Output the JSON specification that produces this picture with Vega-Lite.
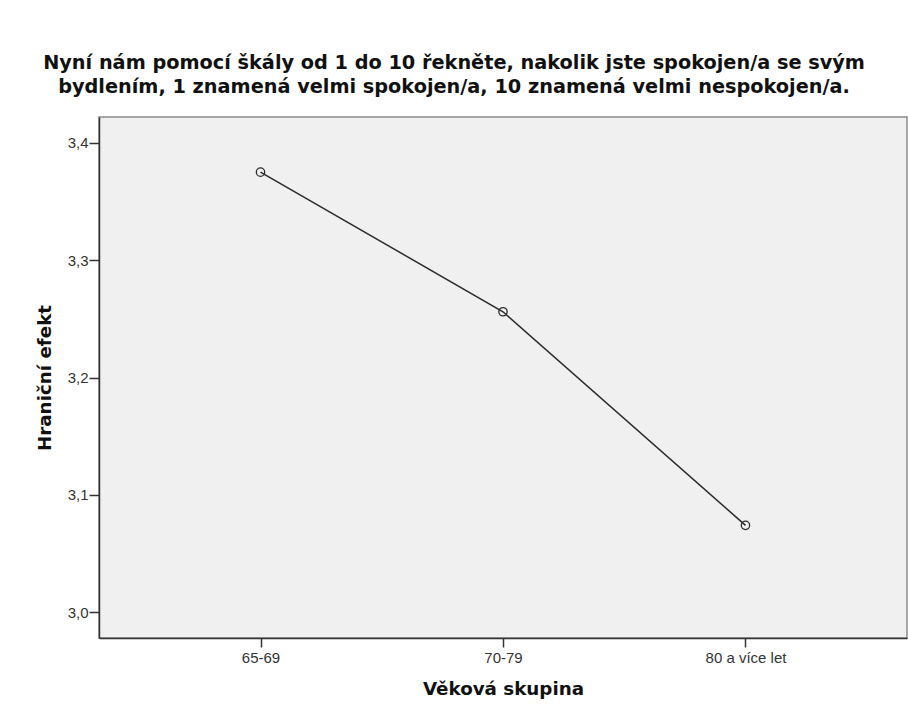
{
  "$schema": "https://vega.github.io/schema/vega-lite/v6.json",
  "width": 808,
  "height": 521,
  "autosize": {"type": "none"},
  "padding": {"left": 99, "top": 117, "right": 1, "bottom": 78},
  "background": "white",
  "title": {
    "text": [
      "Nyní nám pomocí škály od 1 do 10 řekněte, nakolik jste spokojen/a se svým",
      "bydlením, 1 znamená velmi spokojen/a, 10 znamená velmi nespokojen/a."
    ],
    "font": "DejaVu Sans",
    "fontSize": 19.3,
    "fontWeight": "bold",
    "color": "#111",
    "lineHeight": 24,
    "anchor": "middle",
    "dx": -49,
    "offset": 20
  },
  "config": {
    "view": {"fill": "#f0f0f0", "stroke": "#8a8a8a", "strokeWidth": 1.5},
    "axis": {
      "labelFont": "Liberation Sans",
      "titleFont": "DejaVu Sans",
      "labelFontSize": 15,
      "labelColor": "#333",
      "titleFontSize": 18.3,
      "titleFontWeight": "bold",
      "titleColor": "#111",
      "domainColor": "#333",
      "domainWidth": 1.5,
      "tickColor": "#333",
      "tickWidth": 1.5,
      "grid": false
    }
  },
  "data": {
    "values": [
      {"skupina": "65-69", "efekt": 3.375},
      {"skupina": "70-79", "efekt": 3.256},
      {"skupina": "80 a více let", "efekt": 3.074}
    ]
  },
  "encoding": {
    "x": {
      "field": "skupina",
      "type": "ordinal",
      "sort": null,
      "scale": {"type": "point", "padding": 0.666},
      "axis": {
        "title": "Věková skupina",
        "labelAngle": 0,
        "tickSize": 9,
        "labelPadding": 3,
        "titlePadding": 15
      }
    },
    "y": {
      "field": "efekt",
      "type": "quantitative",
      "scale": {"domain": [2.978, 3.422], "nice": false, "zero": false},
      "axis": {
        "title": "Hraniční efekt",
        "values": [3.0, 3.1, 3.2, 3.3, 3.4],
        "labelExpr": "replace(format(datum.value, '.1f'), '.', ',')",
        "tickSize": 10,
        "labelPadding": 1,
        "titlePadding": 13
      }
    }
  },
  "layer": [
    {"mark": {"type": "line", "color": "#2a2a2a", "strokeWidth": 1.5}},
    {"mark": {"type": "point", "shape": "circle", "filled": false, "size": 70, "stroke": "#2a2a2a", "strokeWidth": 1.3, "opacity": 1}}
  ]
}
